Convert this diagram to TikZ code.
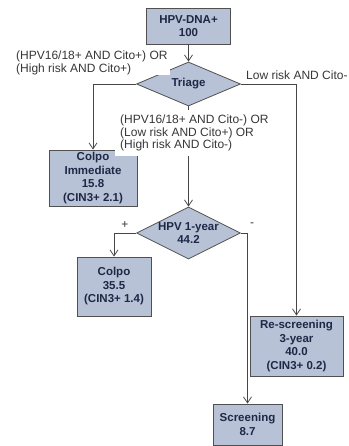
\documentclass[tikz,border=0pt]{standalone}
\usepackage{fontspec}
\setmainfont{Liberation Sans}
\usetikzlibrary{shapes.geometric,arrows.meta}
\definecolor{boxfill}{RGB}{184,194,214}
\definecolor{boxline}{RGB}{80,80,80}
\definecolor{boxtext}{RGB}{30,40,70}
\definecolor{lbltext}{RGB}{55,55,55}
\definecolor{connline}{RGB}{70,70,70}
\begin{document}
\begin{tikzpicture}[x=1pt,y=-1pt,
  stepbox/.style={draw=boxline, line width=0.8pt, fill=boxfill, text=boxtext,
    font=\fontsize{11.5}{13.5}\selectfont\bfseries, align=center, inner sep=0pt},
  decision/.style={diamond, draw=boxline, line width=0.8pt, fill=boxfill, inner sep=0pt},
  dtext/.style={text=boxtext, font=\fontsize{11.5}{13.5}\selectfont\bfseries, align=center, inner sep=0pt},
  conn/.style={draw=connline, line width=0.8pt, -{Straight Barb[length=6pt,width=8pt]}},
  lbl/.style={text=lbltext, font=\fontsize{12}{12.5}\selectfont, align=left, inner sep=0pt}
]
\useasboundingbox (0,0) rectangle (348,446);
\fill[white] (0,0) rectangle (348,446);

% boxes
\node[stepbox, minimum width=84pt, minimum height=36pt] (top) at (188.5,26) {HPV-DNA+\\100};
\node[decision, minimum width=104pt, minimum height=44pt] (triage) at (188.5,84) {};
\node[dtext] (triaget) at (triage.center) {Triage};
\node[stepbox, minimum width=88pt, minimum height=56pt] (colpoI) at (93,178) {Colpo\\Immediate\\15.8\\(CIN3+ 2.1)};
\node[decision, minimum width=104pt, minimum height=52pt] (hpv1) at (188.5,233) {};
\node[dtext] (hpv1t) at (hpv1.center) {HPV 1-year\\44.2};
\node[stepbox, minimum width=74pt, minimum height=59pt] (colpo) at (114,286.5) {Colpo\\35.5\\(CIN3+ 1.4)};
\node[stepbox, minimum width=93pt, minimum height=60pt] (resc) at (296.5,346) {Re-screening\\3-year\\40.0\\(CIN3+ 0.2)};
\node[stepbox, minimum width=69pt, minimum height=41pt] (screen) at (247.5,424.5) {Screening\\8.7};

% connectors
\draw[conn] (top.south) -- (triage.north);
\draw[conn] (triage.west) -| (colpoI.north);
\draw[conn] (triage.east) -| (resc.north);
\draw[conn] (triage.south) -- (hpv1.north);
\draw[conn] (hpv1.west) -| (colpo.north);
\draw[conn] (hpv1.east) -| (screen.north);

% labels
\node[lbl, fill=white, anchor=north west, inner xsep=2pt, inner ysep=0pt] (l1) at (14,51) {(HPV16/18+ AND Cito+) OR\\(High risk AND Cito+)};
\node[lbl, anchor=west] (l2) at (246,75) {Low risk AND Cito-};
\node[lbl, fill=white, anchor=north west, inner sep=5pt] (l3) at (115,110) {(HPV16/18+ AND Cito-) OR\\(Low risk AND Cito+) OR\\(High risk AND Cito-)};
\node[lbl] (lplus) at (125,225) {+};
\node[lbl] (lminus) at (252,225) {-};
\end{tikzpicture}
\end{document}
